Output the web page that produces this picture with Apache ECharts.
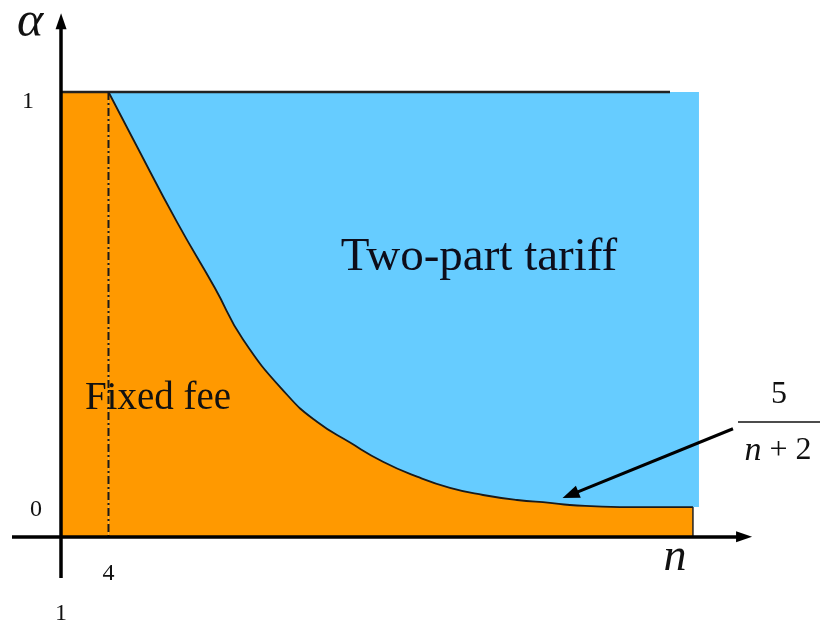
<!DOCTYPE html>
<html>
<head>
<meta charset="utf-8">
<script src="https://cdn.jsdelivr.net/npm/echarts@6/dist/echarts.min.js"></script>
<style>
  html, body { margin: 0; padding: 0; background: #fff; }
  #chart { width: 821px; height: 629px; }
</style>
</head>
<body>
<div id="chart"></div>
<script>
// boundary between the two regions (n, alpha)
const curveN     = [4, 5.55, 8.33, 10.73, 12.5, 15.28, 17.17, 19.26, 21.34, 23.49, 25.57, 27.66, 29.81, 31.89, 33.15, 36.31, 40.92];
const curveAlpha = [1, 0.887, 0.687, 0.528, 0.405, 0.272, 0.207, 0.157, 0.111, 0.075, 0.048, 0.031, 0.019, 0.012, 0.007, 0.002, 0.002];

const nStart = 1;          // origin of the n axis
const nCut = 4;            // dash-dot line
const orangeEnd = 40.92;   // right edge of the orange region
const blueEnd = 41.3;      // right edge of the blue region
const topLineEnd = 39.47;  // end of the black line at alpha = 1
const alphaFloor = 0.002;

const xTickValues = [1, 4];
const yTickValues = [0, 1];

// axis extents
const nMin = 1, nMax = 44.65, nTail = -2.1, nArrow = 44.15;
const aMin = -0.07, aMax = 1.19, aTail = -0.169, aArrow = 1.17;

// annotation arrow pointing at the curve
const arrowFrom = [43.45, 0.19];
const arrowTo = [33.18, 0.031];

const serif = '"Liberation Serif", "DejaVu Serif", serif';

const curveData = curveN.map((n, i) => [n, curveAlpha[i]]);

const chart = echarts.init(document.getElementById('chart'));

const hiddenAxis = {
  axisLine: { show: false, onZero: false },
  axisTick: { show: false },
  splitLine: { show: false },
  axisLabel: { show: false }
};

const option = {
  backgroundColor: '#fff',
  animation: false,
  grid: [
    { left: 61, right: 69, top: 13, bottom: 92, containLabel: false, outerBoundsMode: 'none' },
    // same scale, stretched to hold the axis tails
    { left: 12, right: 69, top: 13, bottom: 51, containLabel: false, outerBoundsMode: 'none' }
  ],
  xAxis: [
    {
      type: 'value', min: nMin, max: nMax, gridIndex: 0,
      axisLine: { show: false, onZero: false },
      axisTick: { show: false },
      splitLine: { show: false },
      axisLabel: {
        customValues: xTickValues,
        margin: 17,
        lineHeight: 40,
        fontFamily: serif, fontSize: 24, color: '#111',
        formatter: v => (v === 1 ? '\n1' : String(v))
      }
    },
    Object.assign({ type: 'value', min: nTail, max: nMax, gridIndex: 1 }, hiddenAxis)
  ],
  yAxis: [
    {
      type: 'value', min: aMin, max: aMax, gridIndex: 0,
      axisLine: { show: false, onZero: false },
      axisTick: { show: false },
      splitLine: { show: false },
      axisLabel: {
        customValues: yTickValues,
        margin: 19,
        lineHeight: 20,
        fontFamily: serif, fontSize: 24, color: '#111',
        formatter: v => (v === 1 ? '\n{one|1}' : '\n{zero|0}'),
        rich: {
          one: { fontFamily: serif, fontSize: 24, color: '#111', padding: [0, 8, 0, 0] },
          zero: { fontFamily: serif, fontSize: 24, color: '#111', padding: [0, 0, 16, 0] }
        }
      }
    },
    Object.assign({ type: 'value', min: aTail, max: aMax, gridIndex: 1 }, hiddenAxis)
  ],
  series: [
    {
      name: 'Two-part tariff', type: 'line', z: 1,
      data: [[nCut, 1], [blueEnd, 1]],
      showSymbol: false,
      lineStyle: { width: 0 },
      areaStyle: { color: '#66CCFF', opacity: 1, origin: alphaFloor }
    },
    {
      name: 'Fixed fee', type: 'line', z: 2,
      data: [[nStart, 1], [nCut, 1]],
      showSymbol: false,
      lineStyle: { width: 0 },
      areaStyle: { color: '#FF9900', opacity: 1, origin: 'start' }
    },
    {
      name: 'Fixed fee', type: 'line', z: 2,
      data: curveData,
      showSymbol: false,
      smooth: 0.5,
      lineStyle: { color: '#1a1a1a', width: 1.8 },
      areaStyle: { color: '#FF9900', opacity: 1, origin: 'start' }
    },
    {
      type: 'line', z: 3,
      data: [[orangeEnd, alphaFloor], [orangeEnd, aMin]],
      showSymbol: false,
      lineStyle: { color: '#222', width: 1.5 }
    },
    {
      type: 'line', z: 3,
      data: [[nStart, 1], [topLineEnd, 1]],
      showSymbol: false,
      lineStyle: { color: '#222', width: 2.5 }
    },
    {
      type: 'line', z: 3,
      data: [[nCut, 1], [nCut, aMin]],
      showSymbol: false,
      lineStyle: { color: '#1a1a1a', width: 2, type: [8, 3, 2, 3] }
    },
    {
      type: 'line', z: 4, xAxisIndex: 1, yAxisIndex: 1,
      data: [[nTail, aMin], [nMax, aMin], [nStart, aTail], [nStart, aMax]],
      lineStyle: { width: 0 }, showSymbol: false, silent: true,
      markLine: {
        silent: true, animation: false,
        label: { show: false },
        symbol: ['none', 'triangle'],
        symbolSize: [11, 16],
        lineStyle: { color: '#000', width: 3.5, type: 'solid' },
        data: [
          [{ coord: [nTail, aMin] }, { coord: [nArrow, aMin] }],
          [{ coord: [nStart, aTail] }, { coord: [nStart, aArrow] }],
          [{ coord: arrowFrom, lineStyle: { width: 3 } }, { coord: arrowTo, symbolSize: [13, 17] }]
        ]
      }
    }
  ],
  graphic: [
    { type: 'text', z: 10, style: { text: 'α', x: 30, y: 23, align: 'center', verticalAlign: 'middle', font: 'italic 50px ' + serif, fill: '#111' } },
    { type: 'text', z: 10, style: { text: 'n', x: 675, y: 558, align: 'center', verticalAlign: 'middle', font: 'italic 46px ' + serif, fill: '#111' } },
    { type: 'text', z: 10, style: { text: 'Two-part tariff', x: 479, y: 258, align: 'center', verticalAlign: 'middle', font: '47px ' + serif, fill: '#0d0d1a' } },
    { type: 'text', z: 10, style: { text: 'Fixed fee', x: 158, y: 399, align: 'center', verticalAlign: 'middle', font: '39px ' + serif, fill: '#111' } },
    { type: 'text', z: 10, style: { text: '5', x: 779, y: 395, align: 'center', verticalAlign: 'middle', font: '32px ' + serif, fill: '#111' } },
    { type: 'line', z: 10, shape: { x1: 738, y1: 422, x2: 820, y2: 422 }, style: { stroke: '#111', lineWidth: 1.5 } },
    { type: 'text', z: 10, style: { text: '{i|n} + 2', x: 778, y: 451, align: 'center', verticalAlign: 'middle', font: '32px ' + serif, fill: '#111',
      rich: { i: { fontStyle: 'italic', fontSize: 34, fontFamily: serif, fill: '#111' } } } }
  ]
};

chart.setOption(option);
window.addEventListener('resize', () => chart.resize());
</script>
</body>
</html>
